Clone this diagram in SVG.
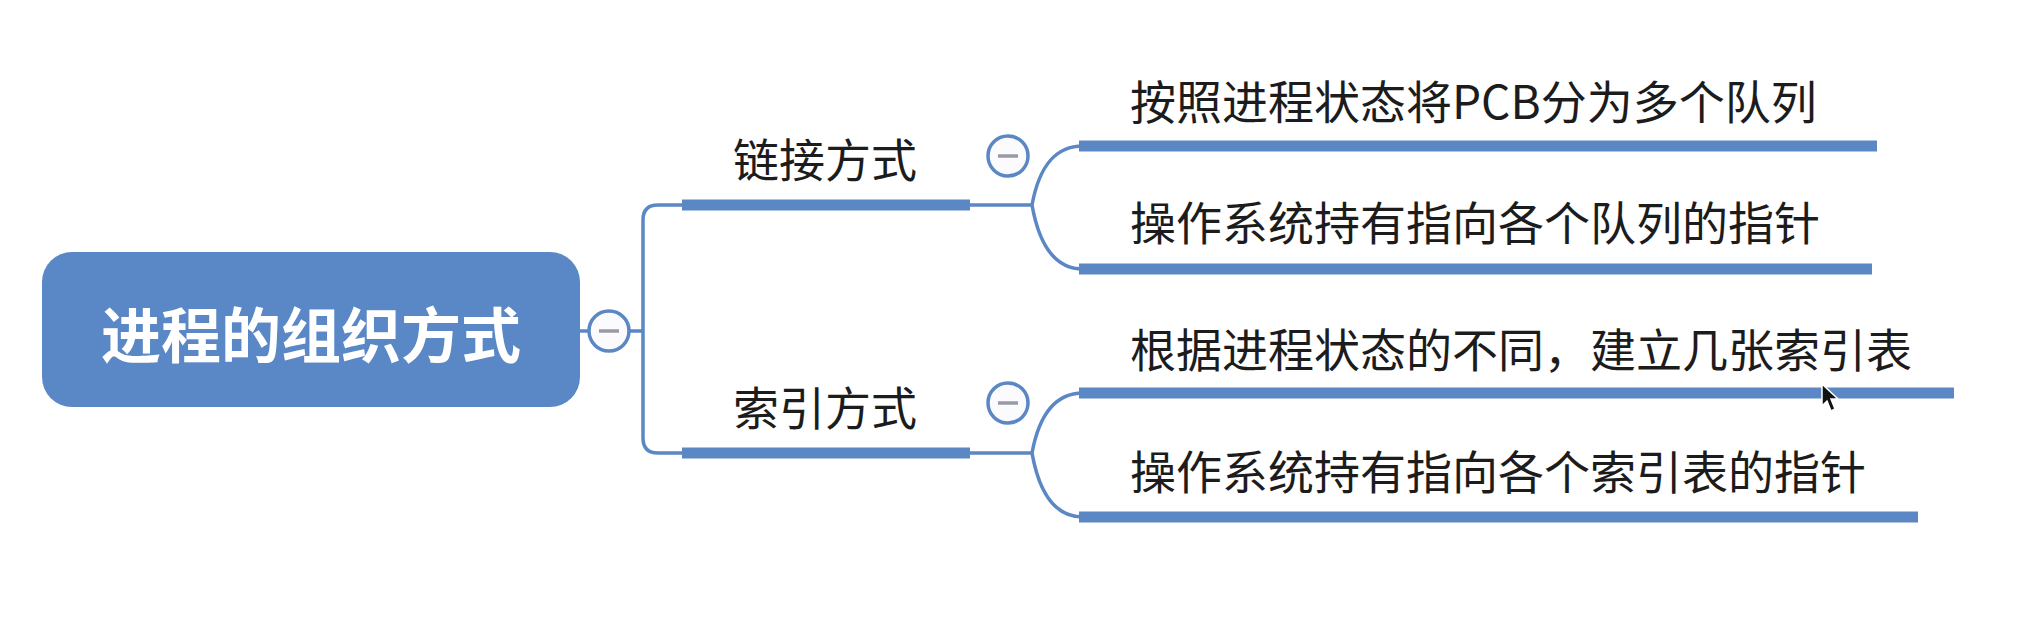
<svg xmlns="http://www.w3.org/2000/svg" width="2020" height="622" viewBox="0 0 2020 622">
<style>
.bar{stroke:#5b87c4;stroke-width:11;fill:none}
.thin{stroke:#5b87c4;stroke-width:3.5;fill:none}
.fold{fill:#fbfbfd;stroke:#5b87c4;stroke-width:3.5}
.minus{stroke:#9a9aa6;stroke-width:3.5}
.t{font-family:"Noto Sans CJK SC","Noto Sans",sans-serif;font-size:46px;fill:#1c1c1c}
.root{font-family:"Noto Sans CJK SC","Noto Sans",sans-serif;font-size:60px;font-weight:bold;fill:#ffffff}
</style>
<rect width="2020" height="622" fill="#ffffff"/>
<g id="connectors">
<path class="thin" d="M580,331 H589"/>
<path class="thin" d="M629,331 H643"/>
<path class="thin" d="M682,205 H658 Q643,205 643,220 V438 Q643,453 658,453 H682"/>
<path class="thin" d="M970,205 H1032"/>
<path class="thin" d="M1032,205 C1040,162 1058,146 1083,146"/>
<path class="thin" d="M1032,205 C1040,250 1058,269 1083,269"/>
<path class="thin" d="M970,453 H1032"/>
<path class="thin" d="M1032,453 C1040,410 1058,393 1083,393"/>
<path class="thin" d="M1032,453 C1040,498 1058,517 1083,517"/>
</g>
<g id="root">
<rect x="42" y="252" width="538" height="155" rx="30" fill="#5a88c6"/>
<text class="root" x="311" y="358" text-anchor="middle">进程的组织方式</text>
<circle class="fold" cx="609" cy="331" r="20"/>
<line class="minus" x1="599" y1="331" x2="619" y2="331"/>
</g>
<g id="branch-link">
<line class="bar" x1="682" y1="205" x2="970" y2="205"/>
<text class="t" x="733" y="177">链接方式</text>
<circle class="fold" cx="1008" cy="156" r="20"/>
<line class="minus" x1="998" y1="156" x2="1018" y2="156"/>
</g>
<g id="branch-index">
<line class="bar" x1="682" y1="453" x2="970" y2="453"/>
<text class="t" x="733" y="425">索引方式</text>
<circle class="fold" cx="1008" cy="403" r="20"/>
<line class="minus" x1="998" y1="403" x2="1018" y2="403"/>
</g>
<g id="leaf1">
<line class="bar" x1="1079" y1="146" x2="1877" y2="146"/>
<text class="t" x="1130" y="119">按照进程状态将PCB分为多个队列</text>
</g>
<g id="leaf2">
<line class="bar" x1="1079" y1="269" x2="1872" y2="269"/>
<text class="t" x="1130" y="240">操作系统持有指向各个队列的指针</text>
</g>
<g id="leaf3">
<line class="bar" x1="1079" y1="393" x2="1954" y2="393"/>
<text class="t" x="1130" y="367">根据进程状态的不同，建立几张索引表</text>
</g>
<g id="leaf4">
<line class="bar" x1="1079" y1="517" x2="1918" y2="517"/>
<text class="t" x="1130" y="489">操作系统持有指向各个索引表的指针</text>
</g>
<path d="M1822,384 L1822,406 L1827,401 L1831,411 L1835,409 L1831,399 L1838,399 Z" fill="#111" stroke="#fff" stroke-width="1.5"/>
</svg>
